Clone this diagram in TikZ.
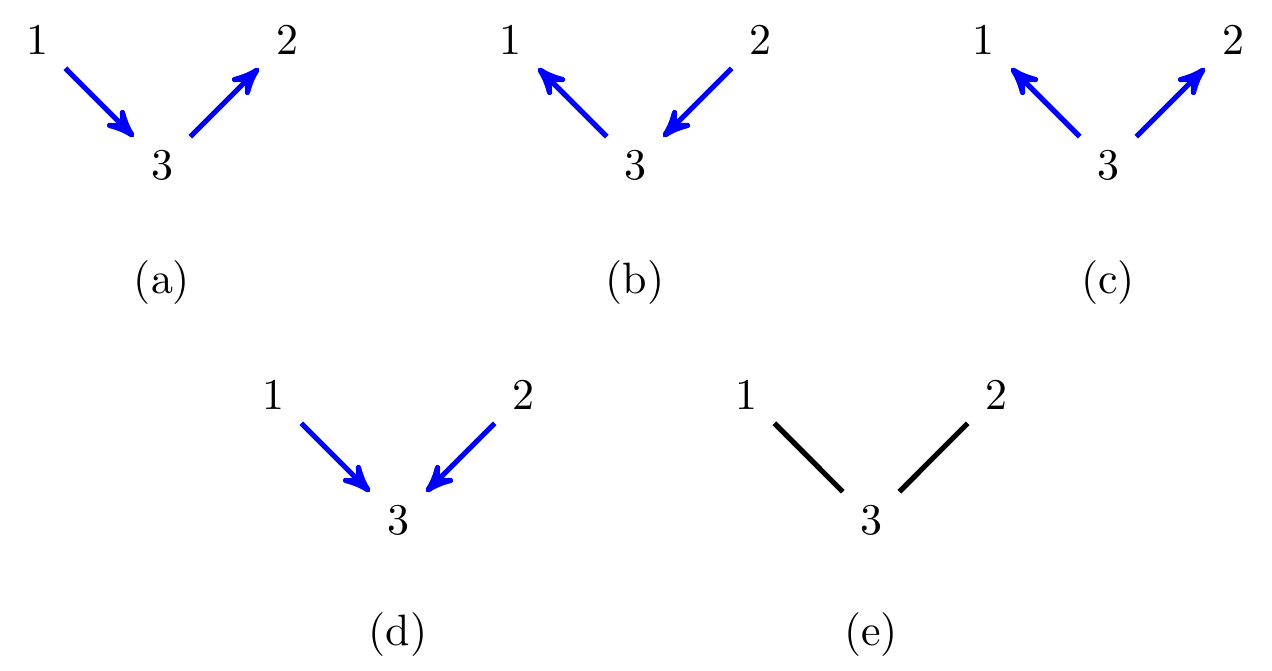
\documentclass[tikz,border=0pt]{standalone}
\usepackage{tikz}
\usetikzlibrary{arrows}

\begin{document}
\begin{tikzpicture}
[->,>=stealth',auto,node distance=1.414cm,very thick]
\tikzstyle{every node}=[text=black]
\tikzstyle{dir}=[blue]
\tikzstyle{undir}=[-,black]
\useasboundingbox (0,0) rectangle (10.176,-5.368);
% (a)
\node (a3) at (1.296,-1.32) {$3$};
\node (a1) [above left of=a3] {$1$};
\node (a2) [above right of=a3] {$2$};
\node (la) at (1.296,-2.264) {(a)};
% (b)
\node (b3) at (5.08,-1.32) {$3$};
\node (b1) [above left of=b3] {$1$};
\node (b2) [above right of=b3] {$2$};
\node (lb) at (5.08,-2.264) {(b)};
% (c)
\node (c3) at (8.864,-1.32) {$3$};
\node (c1) [above left of=c3] {$1$};
\node (c2) [above right of=c3] {$2$};
\node (lc) at (8.864,-2.264) {(c)};
% (d)
\node (d3) at (3.184,-4.16) {$3$};
\node (d1) [above left of=d3] {$1$};
\node (d2) [above right of=d3] {$2$};
\node (ld) at (3.184,-5.08) {(d)};
% (e)
\node (e3) at (6.968,-4.16) {$3$};
\node (e1) [above left of=e3] {$1$};
\node (e2) [above right of=e3] {$2$};
\node (le) at (6.968,-5.08) {(e)};

\path
(a1) edge [dir] (a3)
(a3) edge [dir] (a2)
(b3) edge [dir] (b1)
(b2) edge [dir] (b3)
(c3) edge [dir] (c1)
(c3) edge [dir] (c2)
(d1) edge [dir] (d3)
(d2) edge [dir] (d3)
(e1) edge [undir] (e3)
(e2) edge [undir] (e3)
;\end{tikzpicture}
\end{document}
